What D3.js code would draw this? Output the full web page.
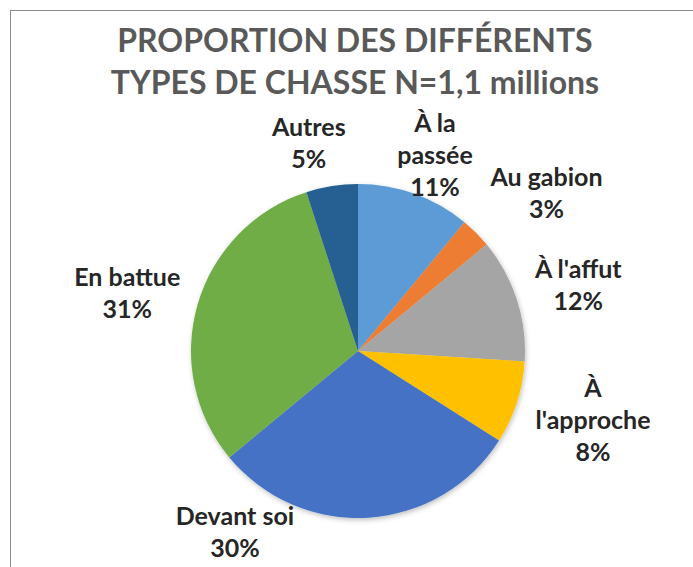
<!DOCTYPE html>
<html>
<head>
<meta charset="utf-8">
<script src="https://cdn.jsdelivr.net/npm/d3@7"></script>
<style>
  body { margin: 0; background: #fff; }
  svg { display: block; }
</style>
</head>
<body>
<svg id="pie" width="693" height="567"></svg>
<script>
// données
const categories = ["À la passée", "Au gabion", "À l'affut", "À l'approche", "Devant soi", "En battue", "Autres"];
const labelLines = [["À la", "passée"], ["Au gabion"], ["À l'affut"], ["À", "l'approche"], ["Devant soi"], ["En battue"], ["Autres"]];
const values = [11, 3, 12, 8, 30, 31, 5];
const colors = ["#5B9BD5", "#ED7D31", "#A5A5A5", "#FFC000", "#4472C4", "#70AD47", "#255E91"];
const titleLines = ["PROPORTION DES DIFFÉRENTS", "TYPES DE CHASSE N=1,1 millions"];

const svg = d3.select("#pie");
const cx = 358, cy = 351, r = 167;

// cadre
svg.append("rect")
  .attr("x", 10.5).attr("y", 10.5)
  .attr("width", 700).attr("height", 600)
  .attr("fill", "none")
  .attr("stroke", "#8c8c8c")
  .attr("stroke-width", 1);

// titre
svg.append("g").selectAll("text")
  .data(titleLines)
  .enter().append("text")
  .attr("x", 355)
  .attr("y", (d, i) => 52 + i * 42)
  .attr("text-anchor", "middle")
  .attr("font-family", "Lato, 'Open Sans', sans-serif")
  .attr("font-weight", "bold")
  .attr("font-size", "32px")
  .attr("fill", "#595959")
  .text(d => d);

// ombre légère
const defs = svg.append("defs");
const f = defs.append("filter").attr("id", "shadow").attr("x", "-20%").attr("y", "-20%").attr("width", "140%").attr("height", "140%");
f.append("feDropShadow").attr("dx", 1).attr("dy", 2).attr("stdDeviation", 2.5).attr("flood-color", "#000").attr("flood-opacity", 0.25);

const pie = d3.pie().sort(null).value(d => d.v);
const data = categories.map((c, i) => ({ name: c, v: values[i], lines: labelLines[i], color: colors[i] }));
const arcs = pie(data);
const arc = d3.arc().innerRadius(0).outerRadius(r);

const g = svg.append("g").attr("transform", `translate(${cx},${cy})`);
g.append("g").attr("filter", "url(#shadow)")
  .selectAll("path")
  .data(arcs)
  .enter().append("path")
  .attr("d", arc)
  .attr("fill", d => d.data.color);

// étiquettes (placement "ajusté" façon Excel : rayon et angle retouchés)
const labelRadius = { "À la passée": 211, "Au gabion": 246, "À l'affut": 230, "À l'approche": 245, "Devant soi": 219, "En battue": 238, "Autres": 214 };
const labelShift = { "À la passée": 1.6, "Au gabion": 5, "À l'affut": 1.3, "À l'approche": -1.6, "Devant soi": 37.8, "En battue": -2, "Autres": -4.3 };
const lh = 32;

const labels = g.append("g").selectAll("text")
  .data(arcs)
  .enter().append("text")
  .attr("text-anchor", "middle")
  .attr("font-family", "Lato, 'Open Sans', sans-serif")
  .attr("font-weight", "bold")
  .attr("font-size", "25px")
  .attr("fill", "#262626")
  .attr("transform", d => {
    const a = (d.startAngle + d.endAngle) / 2 + labelShift[d.data.name] * Math.PI / 180;
    const lr = labelRadius[d.data.name];
    const x = Math.sin(a) * lr, y = -Math.cos(a) * lr;
    const n = d.data.lines.length + 1;
    return `translate(${x},${y - (n - 1) * lh / 2 + 9})`;
  });

labels.each(function (d) {
  const t = d3.select(this);
  const lines = d.data.lines.concat([d.data.v + "%"]);
  lines.forEach((l, i) => {
    t.append("tspan").attr("x", 0).attr("dy", i === 0 ? 0 : lh).text(l);
  });
});
</script>
</body>
</html>
